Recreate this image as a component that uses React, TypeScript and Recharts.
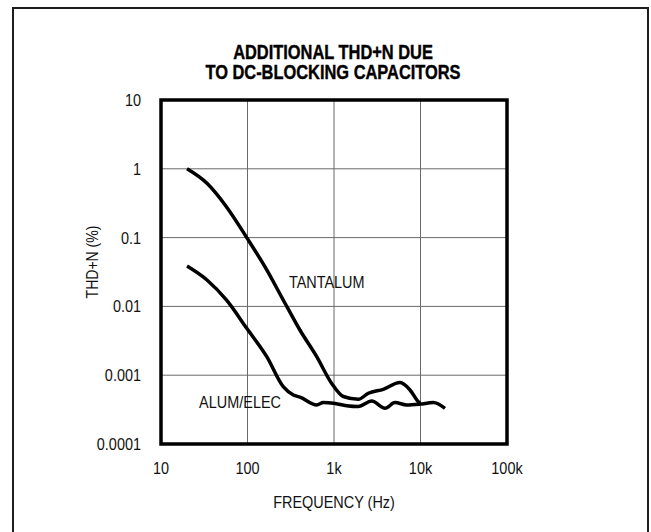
import React from 'react';
import {
  LineChart,
  Line,
  XAxis,
  YAxis,
  CartesianGrid,
  ReferenceArea,
  ReferenceDot,
} from 'recharts';

const titleLines = ['ADDITIONAL THD+N DUE', 'TO DC-BLOCKING CAPACITORS'];
const xAxisTitle = 'FREQUENCY (Hz)';
const yAxisTitle = 'THD+N (%)';

const xTicks = [10, 100, 1000, 10000, 100000];
const xTickLabels = ['10', '100', '1k', '10k', '100k'];
const yTicks = [0.0001, 0.001, 0.01, 0.1, 1, 10];
const yTickLabels = ['0.0001', '0.001', '0.01', '0.1', '1', '10'];

const tantalumFreq = [20, 34, 57, 98, 167, 259, 405, 631, 940, 1282, 1910, 2495, 3716, 5800, 7565, 9440, 9860];
const tantalumThd = [1.0, 0.615, 0.281, 0.1, 0.034, 0.0124, 0.0045, 0.00186, 0.00076, 0.00049, 0.000447, 0.000546, 0.000624, 0.00078, 0.00061, 0.00041, 0.00039];

const alumFreq = [20, 34, 57, 98, 167, 259, 339, 405, 631, 752, 992, 1400, 1910, 2730, 3890, 5070, 6920, 9860, 14060, 19190];
const alumThd = [0.0386, 0.0242, 0.0124, 0.0048, 0.00186, 0.00068, 0.000515, 0.00048, 0.00037, 0.0004, 0.00039, 0.00036, 0.00035, 0.00042, 0.00033, 0.0004, 0.00037, 0.00038, 0.0004, 0.00033];

const tantalumLabel = { name: 'TANTALUM', f: 824, v: 0.0229 };
const alumLabel = { name: 'ALUM/ELEC', f: 82, v: 0.00041 };

const tantalumData = tantalumFreq.map((f, i) => ({ f, v: tantalumThd[i] }));
const alumData = alumFreq.map((f, i) => ({ f, v: alumThd[i] }));

const FONT = "'Liberation Sans', Arial, sans-serif";
const SQUEEZE = 0.85;

function NarrowText(props: {
  x: number;
  y: number;
  anchor?: string;
  dy?: string;
  size?: number;
  rotate?: number;
  children: React.ReactNode;
}) {
  const { x, y, anchor = 'middle', dy = '0.355em', size = 17, rotate = 0, children } = props;
  return (
    <text
      x={0}
      y={0}
      dy={dy}
      textAnchor={anchor}
      fill="#111"
      fontSize={size}
      fontFamily={FONT}
      transform={`translate(${x},${y}) rotate(${rotate}) scale(${SQUEEZE},1)`}
    >
      {children}
    </text>
  );
}

const XTick = (p: any) => {
  const v = p.payload?.value;
  const i = xTicks.indexOf(v);
  return (
    <NarrowText x={p.x} y={p.y} anchor="middle" dy="0.71em">
      {i >= 0 ? xTickLabels[i] : String(v)}
    </NarrowText>
  );
};

const YTick = (p: any) => {
  const v = p.payload?.value;
  const i = yTicks.findIndex((t) => Math.abs(t - v) / t < 1e-6);
  return (
    <NarrowText x={p.x} y={p.y} anchor="end" dy="0.355em">
      {i >= 0 ? yTickLabels[i] : String(v)}
    </NarrowText>
  );
};

export default function App() {
  return (
    <div
      style={{
        position: 'absolute',
        left: 0,
        top: 0,
        width: 651,
        height: 532,
        overflow: 'hidden',
        background: '#fff',
      }}
    >
      <div
        style={{
          position: 'absolute',
          left: 12,
          top: 7,
          width: 637,
          height: 560,
          border: '2.5px solid #1e1e1e',
          boxSizing: 'border-box',
        }}
      />
      <div
        style={{
          position: 'absolute',
          left: 0,
          width: 666,
          top: 42,
          textAlign: 'center',
          fontFamily: FONT,
          fontWeight: 900,
          fontSize: 20,
          lineHeight: '20px',
          color: '#000',
          transform: 'scaleX(0.82)',
          transformOrigin: '333px 0',
          WebkitTextStroke: '0.4px #000',
        }}
      >
        {titleLines.map((t) => (
          <div key={t}>{t}</div>
        ))}
      </div>
      <div style={{ position: 'absolute', left: 0, top: 0 }}>
        <LineChart
          width={651}
          height={532}
          margin={{ top: 100, right: 144, bottom: 58, left: 0 }}
        >
          <CartesianGrid stroke="#6a6a6a" strokeWidth={1} />
          <XAxis
            dataKey="f"
            type="number"
            scale="log"
            domain={[10, 100000]}
            ticks={xTicks}
            allowDataOverflow
            height={30}
            axisLine={false}
            tickLine={false}
            tickSize={0}
            tickMargin={18}
            tick={XTick}
            label={{
              content: (p: any) => {
                const vb = p.viewBox || {};
                return (
                  <NarrowText x={vb.x + vb.width / 2} y={vb.y + 58} anchor="middle" size={17}>
                    {xAxisTitle}
                  </NarrowText>
                );
              },
            }}
          />
          <YAxis
            dataKey="v"
            type="number"
            scale="log"
            domain={[0.0001, 10]}
            ticks={yTicks}
            allowDataOverflow
            width={161}
            axisLine={false}
            tickLine={false}
            tickSize={0}
            tickMargin={20}
            tick={YTick}
            label={{
              content: (p: any) => {
                const vb = p.viewBox || {};
                return (
                  <NarrowText
                    x={vb.x + 92}
                    y={vb.y + vb.height / 2 - 10}
                    anchor="middle"
                    size={16.5}
                    rotate={-90}
                  >
                    {yAxisTitle}
                  </NarrowText>
                );
              },
            }}
          />
          <ReferenceArea
            x1={10}
            x2={100000}
            y1={0.0001}
            y2={10}
            fill="none"
            stroke="#000"
            strokeWidth={3.5}
            ifOverflow="visible"
          />
          <Line
            data={tantalumData}
            dataKey="v"
            type="monotone"
            stroke="#000"
            strokeWidth={3.5}
            dot={false}
            isAnimationActive={false}
          />
          <Line
            data={alumData}
            dataKey="v"
            type="monotone"
            stroke="#000"
            strokeWidth={3.5}
            dot={false}
            isAnimationActive={false}
          />
          <ReferenceDot
            x={tantalumLabel.f}
            y={tantalumLabel.v}
            r={0}
            fill="none"
            stroke="none"
            label={{
              content: (p: any) => {
                const vb = p.viewBox || {};
                return (
                  <NarrowText x={vb.x + (vb.width || 0) / 2} y={vb.y + (vb.height || 0) / 2}>
                    {tantalumLabel.name}
                  </NarrowText>
                );
              },
            }}
          />
          <ReferenceDot
            x={alumLabel.f}
            y={alumLabel.v}
            r={0}
            fill="none"
            stroke="none"
            label={{
              content: (p: any) => {
                const vb = p.viewBox || {};
                return (
                  <NarrowText x={vb.x + (vb.width || 0) / 2} y={vb.y + (vb.height || 0) / 2}>
                    {alumLabel.name}
                  </NarrowText>
                );
              },
            }}
          />
        </LineChart>
      </div>
    </div>
  );
}
